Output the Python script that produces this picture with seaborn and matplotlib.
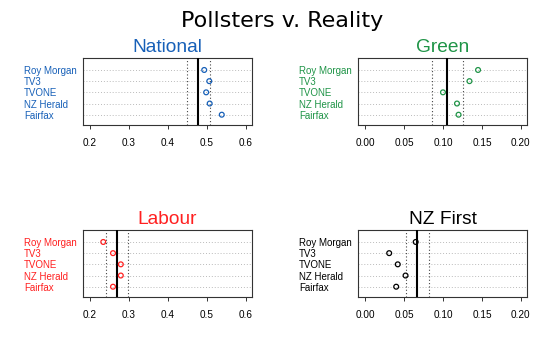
import numpy as np
import pandas as pd
import seaborn as sns
from matplotlib import pyplot as plt

# pollsters, top row first
pollsters = ['Roy Morgan', 'TV3', 'TVONE', 'NZ Herald', 'Fairfax']

national = [0.493, 0.506, 0.498, 0.507, 0.538]
green = [0.145, 0.134, 0.100, 0.118, 0.120]
labour = [0.234, 0.259, 0.279, 0.279, 0.259]
nzfirst = [0.065, 0.031, 0.042, 0.052, 0.040]

# election result and the margin-of-error lines around it
result = {'National': 0.478, 'Green': 0.105, 'Labour': 0.269, 'NZ First': 0.067}
lower = {'National': 0.448, 'Green': 0.0865, 'Labour': 0.241, 'NZ First': 0.052}
upper = {'National': 0.509, 'Green': 0.1255, 'Labour': 0.297, 'NZ First': 0.082}

ticks_big = [0.2, 0.3, 0.4, 0.5, 0.6]
ticks_small = [0.00, 0.05, 0.10, 0.15, 0.20]

sns.set_style('white')
plt.rcParams['font.family'] = ['Liberation Sans', 'DejaVu Sans']
plt.rcParams['text.color'] = 'black'
plt.rcParams['xtick.color'] = 'black'
plt.rcParams['xtick.labelcolor'] = 'black'

fig = plt.figure(figsize=(5.51, 3.56), dpi=100)

W, H = 551, 356
def axes_at(x0, y0, x1, y1):
    return fig.add_axes([x0 / W, 1 - y1 / H, (x1 - x0) / W, (y1 - y0) / H])

panels = [
    ('National', national, '#1760B8', ticks_big, ['0.2', '0.3', '0.4', '0.5', '0.6'], (83, 58, 252, 125)),
    ('Green', green, '#1F9447', ticks_small, ['0.00', '0.05', '0.10', '0.15', '0.20'], (358, 58, 527, 125)),
    ('Labour', labour, '#FF2020', ticks_big, ['0.2', '0.3', '0.4', '0.5', '0.6'], (83, 230, 252, 297)),
    ('NZ First', nzfirst, 'black', ticks_small, ['0.00', '0.05', '0.10', '0.15', '0.20'], (358, 230, 527, 297)),
]

for name, vals, col, ticks, tlabels, box in panels:
    ax = axes_at(*box)
    df = pd.DataFrame({'pollster': pollsters, 'share': vals,
                       'row': np.arange(len(pollsters), 0, -1)})
    for r in df['row']:
        ax.axhline(r, color='#bbbbbb', lw=0.7, ls=(0, (1, 2)), zorder=1)
    ax.axvline(lower[name], color='#444444', lw=0.8, ls=(0, (1, 2)), zorder=2)
    ax.axvline(upper[name], color='#444444', lw=0.8, ls=(0, (1, 2)), zorder=2)
    ax.axvline(result[name], color='black', lw=1.5, zorder=3)
    sns.scatterplot(data=df, x='share', y='row', ax=ax, marker='o', s=12,
                    facecolor='none', edgecolor=col, linewidth=0.9, zorder=4)
    span = ticks[-1] - ticks[0]
    ax.set_xlim(ticks[0] - 0.045 * span, ticks[-1] + 0.039 * span)
    ax.set_ylim(0.08, 6.07)
    ax.set_xticks(ticks)
    ax.set_xticklabels(tlabels, fontsize=7.2)
    ax.set_yticks(df['row'])
    ax.set_yticklabels(pollsters, fontsize=7.0, ha='left', color=col)
    ax.tick_params(axis='y', length=0, pad=42.5)
    ax.tick_params(axis='x', length=3, width=0.7, color='#333333', pad=6, direction='out', bottom=True)
    ax.set_xlabel('')
    ax.set_ylabel('')
    for s in ax.spines.values():
        s.set_color('#333333')
        s.set_linewidth(0.8)
    ax.set_title(name, fontsize=13.8, color=col, pad=4)

fig.text(282 / W, 1 - 27 / H, 'Pollsters v. Reality', fontsize=16, family='DejaVu Sans',
         color='black', ha='center', va='baseline')

fig.savefig('out.png', dpi=100)
